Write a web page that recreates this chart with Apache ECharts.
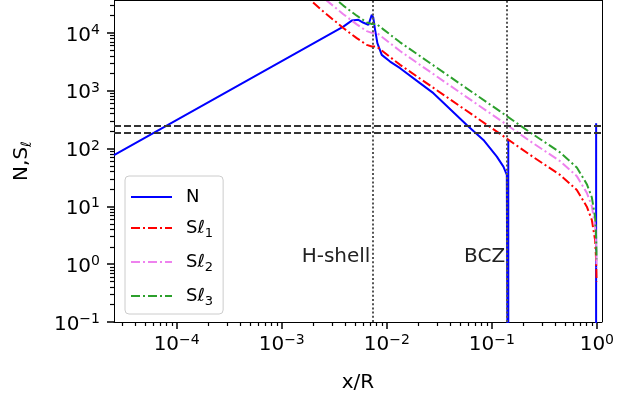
<!DOCTYPE html>
<html><head><meta charset="utf-8">
<script src="https://cdn.jsdelivr.net/npm/echarts@6/dist/echarts.min.js"></script>
<style>html,body{margin:0;padding:0;background:#fff}#c{width:618px;height:400px}</style>
</head><body><div id="c"></div>
<script>
// ---- data ----
const xTicks = [1e-4, 1e-3, 1e-2, 1e-1, 1];
const yTicks = [0.1, 1, 10, 100, 1000, 10000];
const seriesNames = ['N', 'Sℓ1', 'Sℓ2', 'Sℓ3'];
const nData = [
  [2.53e-5, 77], [0.00386, 12800], [0.00464, 16300], [0.00537, 16800], [0.00595, 15100],
  [0.00668, 13700], [0.0072, 20500], [0.00745, 18200], [0.00774, 11300], [0.00814, 6640],
  [0.00896, 4160], [0.01075, 3190], [0.0134, 2450], [0.0207, 1350], [0.0278, 906],
  [0.0578, 256], [0.0832, 141], [0.1117, 72.4], [0.129, 48.7], [0.139, 34.9],
  [0.1425, 1e-4], [0.1435, 141], [0.1437, 1e-4], [0.984, 1e-4], [0.985, 274]
];
const s1Data = [
  [0.0015, 52000], [0.00186, 37200], [0.00249, 23400], [0.00386, 12100], [0.00518, 8100],
  [0.00645, 6200], [0.0072, 5800], [0.00803, 5800], [0.00928, 4700], [0.0134, 2800],
  [0.0401, 707], [0.12, 179], [0.2316, 77.5], [0.447, 34.9], [0.645, 19.2],
  [0.803, 9.88], [0.896, 5.82], [0.963, 2.62], [0.985, 1.18], [0.995, 0.5]
];
const s2Data = [
  [0.0015, 90000], [0.00186, 64400], [0.00249, 40500], [0.00386, 21000], [0.00518, 14000],
  [0.00645, 10700], [0.0072, 10000], [0.00803, 10000], [0.00928, 8140], [0.0134, 4850],
  [0.0401, 1220], [0.12, 310], [0.2316, 134], [0.447, 60.4], [0.645, 33.3],
  [0.803, 17.1], [0.896, 10.1], [0.963, 4.54], [0.985, 2.04], [0.995, 0.87]
];
const s3Data = [
  [0.0015, 127000], [0.00186, 91100], [0.00249, 57300], [0.00386, 29600], [0.00518, 19800],
  [0.00645, 15200], [0.0072, 14200], [0.00803, 14200], [0.00928, 11500], [0.0134, 6860],
  [0.0401, 1730], [0.12, 438], [0.2316, 190], [0.447, 85.5], [0.645, 47.0],
  [0.803, 24.2], [0.896, 14.3], [0.963, 6.42], [0.985, 2.89], [0.995, 1.22]
];
const hLines = [244, 185];
const vLineX = [0.0073, 0.14];
const vLineLabels = ['H-shell', 'BCZ'];
const vLabelY = 1.33;
const xRange = [2.53e-5, 1.12];
const yRange = [0.1, 37000];

// ---- helpers ----
const F = 'DejaVu Sans';
function powLabel(v) {
  const e = Math.round(Math.log10(v));
  return '{b|10}{s|' + (e < 0 ? '\u2212' + (-e) : String(e)) + '}';
}
const richTick = {
  b: { fontSize: 20, fontFamily: F, color: '#000', lineHeight: 24 },
  s: { fontSize: 14, fontFamily: F, color: '#000', lineHeight: 14, verticalAlign: 'top' }
};

const chart = echarts.init(document.getElementById('c'));
const dashDot = [9, 3, 2, 3];
const frame = { color: '#000', width: 1, type: 'solid' };
const tickColor = '#000';
chart.setOption({
  animation: false,
  grid: { left: 114, right: 16, top: 0, bottom: 78 },
  xAxis: {
    type: 'log', min: xRange[0], max: xRange[1],
    name: 'x/R', nameLocation: 'middle', nameGap: 51,
    nameTextStyle: { fontSize: 20, fontFamily: F, color: '#000' },
    axisLine: { show: true, lineStyle: { color: '#000' } },
    axisTick: { show: true, customValues: xTicks, length: 7, lineStyle: { color: tickColor, width: 1.5 } },
    axisLabel: { customValues: xTicks, formatter: powLabel, margin: 11, rich: richTick },
    splitLine: { show: true, lineStyle: { opacity: 0 } },
    minorTick: { show: true, splitNumber: 9, length: 4, lineStyle: { color: tickColor, width: 1.2 } }
  },
  yAxis: {
    type: 'log', min: yRange[0], max: yRange[1],
    name: '{a|N,S}{sub|ℓ}', nameLocation: 'middle', nameGap: 80,
    nameTextStyle: { fontSize: 20, fontFamily: F, color: '#000',
      rich: { a: { fontSize: 20, fontFamily: F, color: '#000', lineHeight: 24 },
              sub: { fontSize: 14, fontFamily: F, color: '#000', lineHeight: 16, verticalAlign: 'bottom' } } },
    axisLine: { show: true, lineStyle: { color: '#000' } },
    axisTick: { show: true, customValues: yTicks, length: 7, lineStyle: { color: tickColor, width: 1.5 } },
    axisLabel: { customValues: yTicks, formatter: powLabel, margin: 14, padding: [5, 0, 0, 0], rich: richTick },
    splitLine: { show: true, lineStyle: { opacity: 0 } },
    minorTick: { show: true, splitNumber: 9, length: 4, lineStyle: { color: tickColor, width: 1.2 } }
  },
  legend: {
    orient: 'vertical', left: 125, top: 176, data: seriesNames,
    itemWidth: 41, itemHeight: 14, itemGap: 13, padding: [12, 10, 6, 5],
    itemStyle: { opacity: 0 },
    backgroundColor: 'rgba(255,255,255,0.8)', borderColor: '#cccccc', borderWidth: 1, borderRadius: 4,
    formatter: name => name === 'N' ? '{t|N}' : '{t|Sℓ}{sub|' + name.slice(2) + '}',
    textStyle: { fontSize: 18, fontFamily: F, color: '#000', padding: [0, 0, 0, 9],
      rich: { t: { fontSize: 18, fontFamily: F, color: '#000', lineHeight: 24 },
              sub: { fontSize: 13, fontFamily: F, color: '#000', lineHeight: 18, verticalAlign: 'bottom' } } }
  },
  series: [
    { name: seriesNames[0], type: 'line', data: nData, symbol: 'none', showSymbol: false,
      lineStyle: { color: '#0000ff', width: 2 }, itemStyle: { color: '#0000ff' },
      markLine: { silent: true, symbol: ['none', 'none'], precision: 6, label: { show: false },
        data: hLines.map(v => ({ yAxis: v, lineStyle: { color: '#333', width: 2, type: [7, 3] } }))
          .concat(vLineX.map(v => ({ xAxis: v, lineStyle: { color: '#555', width: 2, type: [2, 2.2] } })))
          .concat([{ yAxis: yRange[1], lineStyle: frame }, { xAxis: xRange[1], lineStyle: frame }]) },
      markPoint: { silent: true, symbol: 'circle', symbolSize: 0,
        label: { show: true, position: 'left', distance: 2, formatter: '{b}', fontSize: 20, fontFamily: F, color: '#222' },
        data: vLineX.map((x, i) => ({ name: vLineLabels[i], coord: [x, vLabelY] })) } },
    { name: seriesNames[1], type: 'line', data: s1Data, symbol: 'none', showSymbol: false,
      lineStyle: { color: '#ff0000', width: 2, type: dashDot }, itemStyle: { color: '#ff0000' } },
    { name: seriesNames[2], type: 'line', data: s2Data, symbol: 'none', showSymbol: false,
      lineStyle: { color: '#ee82ee', width: 2, type: dashDot }, itemStyle: { color: '#ee82ee' } },
    { name: seriesNames[3], type: 'line', data: s3Data, symbol: 'none', showSymbol: false,
      lineStyle: { color: '#2ca02c', width: 2, type: dashDot }, itemStyle: { color: '#2ca02c' } }
  ]
});
</script></body></html>
